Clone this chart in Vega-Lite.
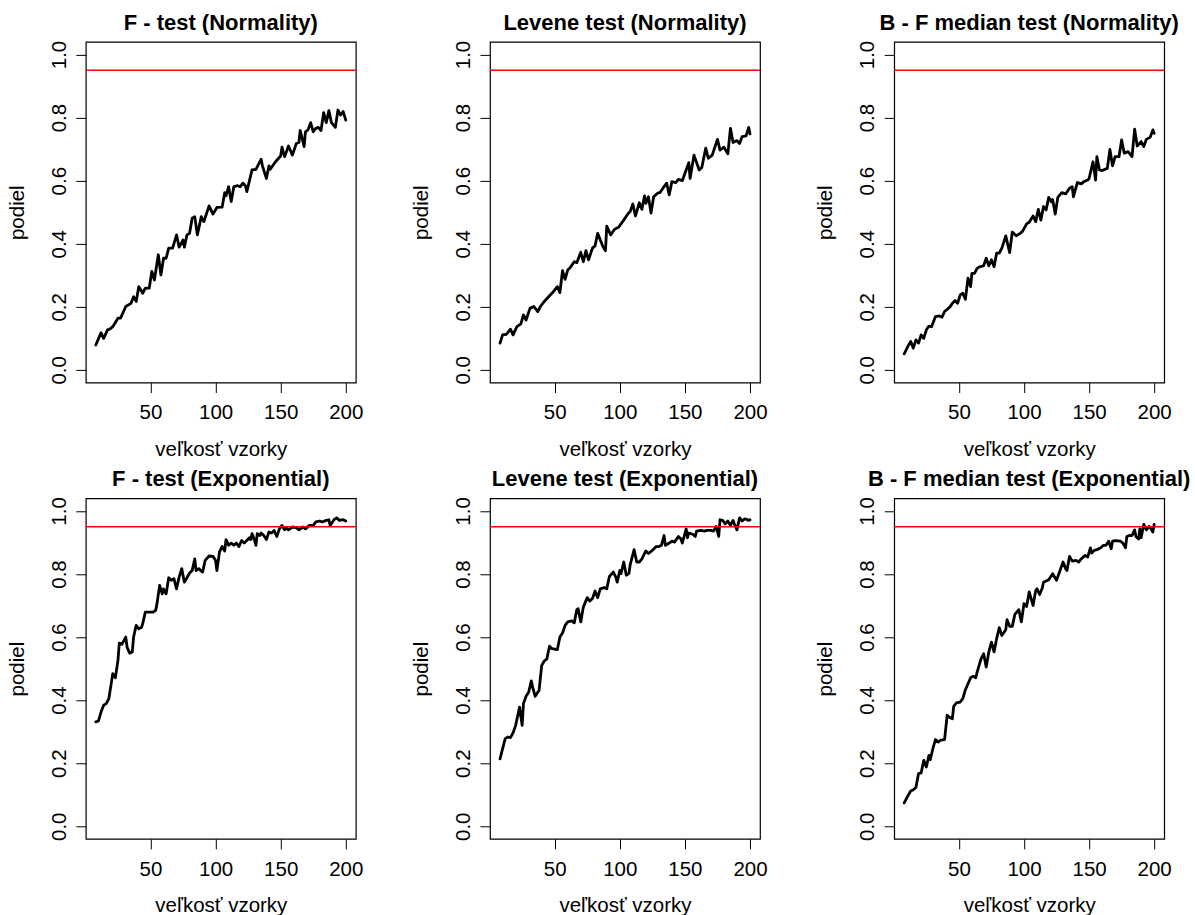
{
  "$schema": "https://vega.github.io/schema/vega-lite/v6.json",
  "padding": {"left": 5.8, "top": 10.9, "right": 0, "bottom": 0},
  "background": "#ffffff",
  "columns": 3,
  "spacing": {"row": 115.4, "column": 134.2},
  "bounds": "flush",
  "datasets": {
    "ref": [{"v": 0.95}],
    "curves": [
      {"p":1,"n":8,"v":0.079},{"p":1,"n":12,"v":0.118},{"p":1,"n":14,"v":0.100},{"p":1,"n":17,"v":0.127},{"p":1,"n":19,"v":0.130},{"p":1,"n":21,"v":0.137},{"p":1,"n":25,"v":0.164},{"p":1,"n":27,"v":0.164},{"p":1,"n":31,"v":0.201},{"p":1,"n":35,"v":0.211},{"p":1,"n":37,"v":0.232},{"p":1,"n":39,"v":0.217},{"p":1,"n":41,"v":0.264},{"p":1,"n":44,"v":0.243},{"p":1,"n":46,"v":0.259},{"p":1,"n":49,"v":0.259},{"p":1,"n":51,"v":0.312},{"p":1,"n":53,"v":0.285},{"p":1,"n":56,"v":0.365},{"p":1,"n":58,"v":0.301},{"p":1,"n":60,"v":0.354},{"p":1,"n":62,"v":0.354},{"p":1,"n":64,"v":0.386},{"p":1,"n":67,"v":0.386},{"p":1,"n":70,"v":0.428},{"p":1,"n":72,"v":0.389},{"p":1,"n":75,"v":0.412},{"p":1,"n":76,"v":0.389},{"p":1,"n":78,"v":0.428},{"p":1,"n":80,"v":0.433},{"p":1,"n":82,"v":0.481},{"p":1,"n":84,"v":0.486},{"p":1,"n":86,"v":0.428},{"p":1,"n":89,"v":0.486},{"p":1,"n":91,"v":0.470},{"p":1,"n":95,"v":0.520},{"p":1,"n":98,"v":0.494},{"p":1,"n":101,"v":0.515},{"p":1,"n":105,"v":0.516},{"p":1,"n":107,"v":0.562},{"p":1,"n":108,"v":0.552},{"p":1,"n":110,"v":0.581},{"p":1,"n":112,"v":0.534},{"p":1,"n":114,"v":0.581},{"p":1,"n":117,"v":0.584},{"p":1,"n":119,"v":0.581},{"p":1,"n":121,"v":0.592},{"p":1,"n":123,"v":0.583},{"p":1,"n":124,"v":0.565},{"p":1,"n":128,"v":0.634},{"p":1,"n":131,"v":0.636},{"p":1,"n":135,"v":0.668},{"p":1,"n":136,"v":0.647},{"p":1,"n":139,"v":0.607},{"p":1,"n":141,"v":0.647},{"p":1,"n":142,"v":0.636},{"p":1,"n":146,"v":0.660},{"p":1,"n":150,"v":0.678},{"p":1,"n":151,"v":0.706},{"p":1,"n":153,"v":0.676},{"p":1,"n":156,"v":0.710},{"p":1,"n":159,"v":0.681},{"p":1,"n":162,"v":0.718},{"p":1,"n":164,"v":0.721},{"p":1,"n":165,"v":0.759},{"p":1,"n":168,"v":0.708},{"p":1,"n":169,"v":0.755},{"p":1,"n":171,"v":0.761},{"p":1,"n":173,"v":0.784},{"p":1,"n":175,"v":0.755},{"p":1,"n":177,"v":0.766},{"p":1,"n":179,"v":0.769},{"p":1,"n":181,"v":0.759},{"p":1,"n":183,"v":0.816},{"p":1,"n":185,"v":0.784},{"p":1,"n":187,"v":0.822},{"p":1,"n":189,"v":0.784},{"p":1,"n":192,"v":0.769},{"p":1,"n":194,"v":0.824},{"p":1,"n":196,"v":0.808},{"p":1,"n":198,"v":0.819},{"p":1,"n":200,"v":0.792},
      {"p":2,"n":8,"v":0.085},{"p":2,"n":10,"v":0.111},{"p":2,"n":13,"v":0.113},{"p":2,"n":16,"v":0.129},{"p":2,"n":18,"v":0.111},{"p":2,"n":21,"v":0.137},{"p":2,"n":24,"v":0.146},{"p":2,"n":26,"v":0.174},{"p":2,"n":28,"v":0.158},{"p":2,"n":31,"v":0.195},{"p":2,"n":34,"v":0.201},{"p":2,"n":37,"v":0.185},{"p":2,"n":39,"v":0.201},{"p":2,"n":42,"v":0.217},{"p":2,"n":46,"v":0.235},{"p":2,"n":49,"v":0.248},{"p":2,"n":52,"v":0.264},{"p":2,"n":54,"v":0.245},{"p":2,"n":56,"v":0.315},{"p":2,"n":58,"v":0.287},{"p":2,"n":60,"v":0.317},{"p":2,"n":62,"v":0.325},{"p":2,"n":65,"v":0.343},{"p":2,"n":67,"v":0.340},{"p":2,"n":70,"v":0.373},{"p":2,"n":72,"v":0.343},{"p":2,"n":74,"v":0.378},{"p":2,"n":76,"v":0.349},{"p":2,"n":79,"v":0.386},{"p":2,"n":81,"v":0.393},{"p":2,"n":83,"v":0.433},{"p":2,"n":87,"v":0.391},{"p":2,"n":89,"v":0.378},{"p":2,"n":90,"v":0.456},{"p":2,"n":93,"v":0.428},{"p":2,"n":96,"v":0.446},{"p":2,"n":99,"v":0.452},{"p":2,"n":103,"v":0.475},{"p":2,"n":107,"v":0.499},{"p":2,"n":108,"v":0.502},{"p":2,"n":110,"v":0.526},{"p":2,"n":112,"v":0.488},{"p":2,"n":115,"v":0.530},{"p":2,"n":117,"v":0.509},{"p":2,"n":119,"v":0.552},{"p":2,"n":120,"v":0.528},{"p":2,"n":122,"v":0.549},{"p":2,"n":124,"v":0.497},{"p":2,"n":126,"v":0.549},{"p":2,"n":129,"v":0.560},{"p":2,"n":131,"v":0.563},{"p":2,"n":134,"v":0.581},{"p":2,"n":136,"v":0.592},{"p":2,"n":138,"v":0.555},{"p":2,"n":140,"v":0.597},{"p":2,"n":143,"v":0.594},{"p":2,"n":145,"v":0.604},{"p":2,"n":148,"v":0.600},{"p":2,"n":153,"v":0.657},{"p":2,"n":154,"v":0.607},{"p":2,"n":157,"v":0.681},{"p":2,"n":161,"v":0.634},{"p":2,"n":163,"v":0.642},{"p":2,"n":166,"v":0.703},{"p":2,"n":168,"v":0.671},{"p":2,"n":171,"v":0.681},{"p":2,"n":175,"v":0.731},{"p":2,"n":177,"v":0.697},{"p":2,"n":180,"v":0.706},{"p":2,"n":183,"v":0.685},{"p":2,"n":185,"v":0.766},{"p":2,"n":187,"v":0.721},{"p":2,"n":190,"v":0.727},{"p":2,"n":192,"v":0.718},{"p":2,"n":194,"v":0.740},{"p":2,"n":197,"v":0.742},{"p":2,"n":199,"v":0.769},{"p":2,"n":200,"v":0.748},
      {"p":3,"n":8,"v":0.051},{"p":3,"n":11,"v":0.076},{"p":3,"n":13,"v":0.090},{"p":3,"n":15,"v":0.069},{"p":3,"n":17,"v":0.095},{"p":3,"n":19,"v":0.085},{"p":3,"n":21,"v":0.111},{"p":3,"n":23,"v":0.100},{"p":3,"n":25,"v":0.127},{"p":3,"n":27,"v":0.139},{"p":3,"n":29,"v":0.137},{"p":3,"n":32,"v":0.169},{"p":3,"n":35,"v":0.171},{"p":3,"n":37,"v":0.167},{"p":3,"n":39,"v":0.185},{"p":3,"n":43,"v":0.199},{"p":3,"n":45,"v":0.211},{"p":3,"n":47,"v":0.220},{"p":3,"n":49,"v":0.211},{"p":3,"n":51,"v":0.238},{"p":3,"n":53,"v":0.243},{"p":3,"n":55,"v":0.224},{"p":3,"n":57,"v":0.291},{"p":3,"n":59,"v":0.264},{"p":3,"n":60,"v":0.306},{"p":3,"n":62,"v":0.306},{"p":3,"n":64,"v":0.322},{"p":3,"n":66,"v":0.327},{"p":3,"n":69,"v":0.330},{"p":3,"n":71,"v":0.354},{"p":3,"n":73,"v":0.330},{"p":3,"n":75,"v":0.349},{"p":3,"n":77,"v":0.327},{"p":3,"n":79,"v":0.370},{"p":3,"n":81,"v":0.370},{"p":3,"n":83,"v":0.386},{"p":3,"n":86,"v":0.425},{"p":3,"n":89,"v":0.372},{"p":3,"n":91,"v":0.437},{"p":3,"n":94,"v":0.425},{"p":3,"n":97,"v":0.433},{"p":3,"n":99,"v":0.440},{"p":3,"n":102,"v":0.463},{"p":3,"n":104,"v":0.468},{"p":3,"n":107,"v":0.488},{"p":3,"n":109,"v":0.470},{"p":3,"n":111,"v":0.509},{"p":3,"n":113,"v":0.475},{"p":3,"n":115,"v":0.518},{"p":3,"n":117,"v":0.507},{"p":3,"n":119,"v":0.547},{"p":3,"n":121,"v":0.533},{"p":3,"n":122,"v":0.540},{"p":3,"n":124,"v":0.494},{"p":3,"n":126,"v":0.547},{"p":3,"n":129,"v":0.562},{"p":3,"n":132,"v":0.558},{"p":3,"n":135,"v":0.576},{"p":3,"n":137,"v":0.581},{"p":3,"n":138,"v":0.549},{"p":3,"n":141,"v":0.594},{"p":3,"n":144,"v":0.590},{"p":3,"n":146,"v":0.597},{"p":3,"n":149,"v":0.602},{"p":3,"n":150,"v":0.607},{"p":3,"n":153,"v":0.660},{"p":3,"n":155,"v":0.602},{"p":3,"n":156,"v":0.676},{"p":3,"n":158,"v":0.634},{"p":3,"n":160,"v":0.632},{"p":3,"n":164,"v":0.639},{"p":3,"n":166,"v":0.699},{"p":3,"n":168,"v":0.647},{"p":3,"n":170,"v":0.676},{"p":3,"n":173,"v":0.676},{"p":3,"n":175,"v":0.729},{"p":3,"n":177,"v":0.687},{"p":3,"n":180,"v":0.692},{"p":3,"n":183,"v":0.676},{"p":3,"n":185,"v":0.763},{"p":3,"n":187,"v":0.710},{"p":3,"n":190,"v":0.724},{"p":3,"n":192,"v":0.708},{"p":3,"n":194,"v":0.731},{"p":3,"n":197,"v":0.738},{"p":3,"n":199,"v":0.761},{"p":3,"n":200,"v":0.750},
      {"p":4,"n":8,"v":0.331},{"p":4,"n":10,"v":0.334},{"p":4,"n":12,"v":0.362},{"p":4,"n":14,"v":0.384},{"p":4,"n":16,"v":0.389},{"p":4,"n":18,"v":0.405},{"p":4,"n":20,"v":0.457},{"p":4,"n":21,"v":0.484},{"p":4,"n":23,"v":0.471},{"p":4,"n":25,"v":0.526},{"p":4,"n":26,"v":0.581},{"p":4,"n":28,"v":0.577},{"p":4,"n":31,"v":0.600},{"p":4,"n":32,"v":0.568},{"p":4,"n":34,"v":0.549},{"p":4,"n":36,"v":0.553},{"p":4,"n":37,"v":0.600},{"p":4,"n":39,"v":0.637},{"p":4,"n":41,"v":0.626},{"p":4,"n":43,"v":0.630},{"p":4,"n":44,"v":0.642},{"p":4,"n":46,"v":0.679},{"p":4,"n":48,"v":0.679},{"p":4,"n":52,"v":0.679},{"p":4,"n":54,"v":0.685},{"p":4,"n":55,"v":0.706},{"p":4,"n":57,"v":0.764},{"p":4,"n":59,"v":0.737},{"p":4,"n":60,"v":0.753},{"p":4,"n":62,"v":0.737},{"p":4,"n":64,"v":0.788},{"p":4,"n":66,"v":0.780},{"p":4,"n":68,"v":0.785},{"p":4,"n":70,"v":0.753},{"p":4,"n":72,"v":0.790},{"p":4,"n":74,"v":0.817},{"p":4,"n":76,"v":0.774},{"p":4,"n":78,"v":0.788},{"p":4,"n":80,"v":0.803},{"p":4,"n":82,"v":0.811},{"p":4,"n":84,"v":0.848},{"p":4,"n":85,"v":0.811},{"p":4,"n":87,"v":0.817},{"p":4,"n":90,"v":0.806},{"p":4,"n":92,"v":0.843},{"p":4,"n":95,"v":0.857},{"p":4,"n":98,"v":0.856},{"p":4,"n":100,"v":0.843},{"p":4,"n":101,"v":0.811},{"p":4,"n":103,"v":0.870},{"p":4,"n":105,"v":0.887},{"p":4,"n":107,"v":0.873},{"p":4,"n":108,"v":0.909},{"p":4,"n":110,"v":0.891},{"p":4,"n":112,"v":0.898},{"p":4,"n":114,"v":0.891},{"p":4,"n":116,"v":0.898},{"p":4,"n":118,"v":0.887},{"p":4,"n":120,"v":0.906},{"p":4,"n":122,"v":0.898},{"p":4,"n":124,"v":0.906},{"p":4,"n":126,"v":0.915},{"p":4,"n":127,"v":0.909},{"p":4,"n":128,"v":0.928},{"p":4,"n":130,"v":0.906},{"p":4,"n":131,"v":0.891},{"p":4,"n":132,"v":0.928},{"p":4,"n":134,"v":0.922},{"p":4,"n":135,"v":0.930},{"p":4,"n":137,"v":0.922},{"p":4,"n":139,"v":0.909},{"p":4,"n":141,"v":0.933},{"p":4,"n":143,"v":0.930},{"p":4,"n":145,"v":0.938},{"p":4,"n":147,"v":0.919},{"p":4,"n":149,"v":0.943},{"p":4,"n":151,"v":0.954},{"p":4,"n":153,"v":0.940},{"p":4,"n":154,"v":0.947},{"p":4,"n":156,"v":0.940},{"p":4,"n":159,"v":0.949},{"p":4,"n":162,"v":0.947},{"p":4,"n":164,"v":0.940},{"p":4,"n":167,"v":0.949},{"p":4,"n":169,"v":0.943},{"p":4,"n":172,"v":0.954},{"p":4,"n":175,"v":0.954},{"p":4,"n":177,"v":0.965},{"p":4,"n":180,"v":0.968},{"p":4,"n":182,"v":0.965},{"p":4,"n":185,"v":0.970},{"p":4,"n":187,"v":0.972},{"p":4,"n":188,"v":0.954},{"p":4,"n":191,"v":0.972},{"p":4,"n":193,"v":0.978},{"p":4,"n":195,"v":0.970},{"p":4,"n":198,"v":0.972},{"p":4,"n":200,"v":0.968},
      {"p":5,"n":8,"v":0.214},{"p":5,"n":10,"v":0.246},{"p":5,"n":12,"v":0.278},{"p":5,"n":14,"v":0.283},{"p":5,"n":16,"v":0.281},{"p":5,"n":18,"v":0.296},{"p":5,"n":20,"v":0.320},{"p":5,"n":23,"v":0.378},{"p":5,"n":25,"v":0.320},{"p":5,"n":26,"v":0.389},{"p":5,"n":28,"v":0.412},{"p":5,"n":30,"v":0.425},{"p":5,"n":32,"v":0.461},{"p":5,"n":33,"v":0.442},{"p":5,"n":35,"v":0.412},{"p":5,"n":37,"v":0.425},{"p":5,"n":38,"v":0.431},{"p":5,"n":40,"v":0.510},{"p":5,"n":42,"v":0.524},{"p":5,"n":44,"v":0.531},{"p":5,"n":46,"v":0.571},{"p":5,"n":48,"v":0.563},{"p":5,"n":52,"v":0.560},{"p":5,"n":54,"v":0.600},{"p":5,"n":56,"v":0.613},{"p":5,"n":58,"v":0.637},{"p":5,"n":60,"v":0.648},{"p":5,"n":63,"v":0.651},{"p":5,"n":65,"v":0.645},{"p":5,"n":67,"v":0.687},{"p":5,"n":68,"v":0.690},{"p":5,"n":70,"v":0.648},{"p":5,"n":72,"v":0.695},{"p":5,"n":75,"v":0.725},{"p":5,"n":77,"v":0.714},{"p":5,"n":79,"v":0.722},{"p":5,"n":81,"v":0.746},{"p":5,"n":83,"v":0.725},{"p":5,"n":85,"v":0.753},{"p":5,"n":88,"v":0.757},{"p":5,"n":90,"v":0.753},{"p":5,"n":92,"v":0.792},{"p":5,"n":95,"v":0.806},{"p":5,"n":97,"v":0.790},{"p":5,"n":98,"v":0.774},{"p":5,"n":100,"v":0.811},{"p":5,"n":101,"v":0.801},{"p":5,"n":103,"v":0.838},{"p":5,"n":105,"v":0.796},{"p":5,"n":107,"v":0.801},{"p":5,"n":108,"v":0.830},{"p":5,"n":111,"v":0.877},{"p":5,"n":113,"v":0.838},{"p":5,"n":115,"v":0.838},{"p":5,"n":117,"v":0.848},{"p":5,"n":120,"v":0.873},{"p":5,"n":122,"v":0.865},{"p":5,"n":125,"v":0.875},{"p":5,"n":128,"v":0.887},{"p":5,"n":130,"v":0.887},{"p":5,"n":132,"v":0.891},{"p":5,"n":134,"v":0.922},{"p":5,"n":135,"v":0.891},{"p":5,"n":138,"v":0.898},{"p":5,"n":140,"v":0.904},{"p":5,"n":142,"v":0.901},{"p":5,"n":145,"v":0.919},{"p":5,"n":147,"v":0.911},{"p":5,"n":148,"v":0.898},{"p":5,"n":151,"v":0.943},{"p":5,"n":152,"v":0.915},{"p":5,"n":153,"v":0.930},{"p":5,"n":156,"v":0.926},{"p":5,"n":158,"v":0.919},{"p":5,"n":159,"v":0.936},{"p":5,"n":162,"v":0.938},{"p":5,"n":165,"v":0.936},{"p":5,"n":167,"v":0.938},{"p":5,"n":170,"v":0.938},{"p":5,"n":172,"v":0.936},{"p":5,"n":174,"v":0.951},{"p":5,"n":176,"v":0.919},{"p":5,"n":177,"v":0.972},{"p":5,"n":179,"v":0.970},{"p":5,"n":181,"v":0.959},{"p":5,"n":183,"v":0.968},{"p":5,"n":185,"v":0.954},{"p":5,"n":187,"v":0.970},{"p":5,"n":188,"v":0.959},{"p":5,"n":190,"v":0.940},{"p":5,"n":192,"v":0.978},{"p":5,"n":194,"v":0.968},{"p":5,"n":196,"v":0.975},{"p":5,"n":199,"v":0.970},{"p":5,"n":200,"v":0.972},
      {"p":6,"n":8,"v":0.074},{"p":6,"n":11,"v":0.098},{"p":6,"n":13,"v":0.112},{"p":6,"n":15,"v":0.116},{"p":6,"n":17,"v":0.123},{"p":6,"n":19,"v":0.167},{"p":6,"n":21,"v":0.169},{"p":6,"n":23,"v":0.209},{"p":6,"n":25,"v":0.188},{"p":6,"n":27,"v":0.225},{"p":6,"n":28,"v":0.211},{"p":6,"n":30,"v":0.246},{"p":6,"n":32,"v":0.275},{"p":6,"n":34,"v":0.267},{"p":6,"n":36,"v":0.273},{"p":6,"n":39,"v":0.275},{"p":6,"n":41,"v":0.352},{"p":6,"n":43,"v":0.345},{"p":6,"n":45,"v":0.341},{"p":6,"n":46,"v":0.380},{"p":6,"n":48,"v":0.391},{"p":6,"n":51,"v":0.394},{"p":6,"n":53,"v":0.405},{"p":6,"n":55,"v":0.433},{"p":6,"n":57,"v":0.452},{"p":6,"n":59,"v":0.471},{"p":6,"n":61,"v":0.476},{"p":6,"n":63,"v":0.471},{"p":6,"n":64,"v":0.489},{"p":6,"n":67,"v":0.531},{"p":6,"n":69,"v":0.547},{"p":6,"n":71,"v":0.505},{"p":6,"n":73,"v":0.553},{"p":6,"n":75,"v":0.584},{"p":6,"n":77,"v":0.553},{"p":6,"n":79,"v":0.595},{"p":6,"n":81,"v":0.630},{"p":6,"n":83,"v":0.605},{"p":6,"n":86,"v":0.623},{"p":6,"n":87,"v":0.655},{"p":6,"n":89,"v":0.634},{"p":6,"n":91,"v":0.634},{"p":6,"n":93,"v":0.672},{"p":6,"n":96,"v":0.687},{"p":6,"n":98,"v":0.648},{"p":6,"n":100,"v":0.706},{"p":6,"n":102,"v":0.697},{"p":6,"n":104,"v":0.743},{"p":6,"n":107,"v":0.700},{"p":6,"n":109,"v":0.748},{"p":6,"n":110,"v":0.753},{"p":6,"n":112,"v":0.735},{"p":6,"n":114,"v":0.755},{"p":6,"n":115,"v":0.774},{"p":6,"n":119,"v":0.782},{"p":6,"n":122,"v":0.801},{"p":6,"n":125,"v":0.780},{"p":6,"n":127,"v":0.803},{"p":6,"n":130,"v":0.838},{"p":6,"n":132,"v":0.817},{"p":6,"n":133,"v":0.811},{"p":6,"n":135,"v":0.856},{"p":6,"n":137,"v":0.841},{"p":6,"n":140,"v":0.843},{"p":6,"n":142,"v":0.838},{"p":6,"n":144,"v":0.848},{"p":6,"n":147,"v":0.859},{"p":6,"n":149,"v":0.854},{"p":6,"n":151,"v":0.883},{"p":6,"n":152,"v":0.866},{"p":6,"n":154,"v":0.875},{"p":6,"n":156,"v":0.877},{"p":6,"n":159,"v":0.883},{"p":6,"n":161,"v":0.891},{"p":6,"n":163,"v":0.891},{"p":6,"n":165,"v":0.904},{"p":6,"n":167,"v":0.880},{"p":6,"n":168,"v":0.904},{"p":6,"n":170,"v":0.906},{"p":6,"n":174,"v":0.904},{"p":6,"n":176,"v":0.898},{"p":6,"n":178,"v":0.883},{"p":6,"n":179,"v":0.919},{"p":6,"n":181,"v":0.922},{"p":6,"n":183,"v":0.922},{"p":6,"n":185,"v":0.940},{"p":6,"n":186,"v":0.919},{"p":6,"n":188,"v":0.911},{"p":6,"n":189,"v":0.943},{"p":6,"n":190,"v":0.915},{"p":6,"n":192,"v":0.957},{"p":6,"n":194,"v":0.940},{"p":6,"n":196,"v":0.951},{"p":6,"n":197,"v":0.947},{"p":6,"n":199,"v":0.933},{"p":6,"n":200,"v":0.957}
    ]
  },
  "concat": [
    {"title": "F - test (Normality)", "width": 270, "height": 340.6, "data": {"name": "curves"}, "transform": [{"filter": "datum.p == 1"}],
     "layer": [
      {"mark": {"type": "line", "color": "#000000", "strokeWidth": 2.8, "strokeJoin": "round", "strokeCap": "round"},
       "encoding": {"x": {"field": "n", "type": "quantitative", "scale": {"domain": [0.3, 207.7], "nice": false, "zero": false}, "axis": {"values": [50, 100, 150, 200], "title": "veľkosť vzorky"}},
                    "y": {"field": "v", "type": "quantitative", "scale": {"domain": [-0.04, 1.04], "nice": false, "zero": false}, "axis": {"values": [0, 0.2, 0.4, 0.6, 0.8, 1], "format": ".1f", "title": "podiel"}}}},
      {"data": {"name": "ref"}, "mark": {"type": "rule", "color": "#ff0000", "strokeWidth": 1.6}, "encoding": {"y": {"field": "v", "type": "quantitative"}}}
     ]},
    {"title": "Levene test (Normality)", "width": 270, "height": 340.6, "data": {"name": "curves"}, "transform": [{"filter": "datum.p == 2"}],
     "layer": [
      {"mark": {"type": "line", "color": "#000000", "strokeWidth": 2.8, "strokeJoin": "round", "strokeCap": "round"},
       "encoding": {"x": {"field": "n", "type": "quantitative", "scale": {"domain": [0.3, 207.7], "nice": false, "zero": false}, "axis": {"values": [50, 100, 150, 200], "title": "veľkosť vzorky"}},
                    "y": {"field": "v", "type": "quantitative", "scale": {"domain": [-0.04, 1.04], "nice": false, "zero": false}, "axis": {"values": [0, 0.2, 0.4, 0.6, 0.8, 1], "format": ".1f", "title": "podiel"}}}},
      {"data": {"name": "ref"}, "mark": {"type": "rule", "color": "#ff0000", "strokeWidth": 1.6}, "encoding": {"y": {"field": "v", "type": "quantitative"}}}
     ]},
    {"title": "B - F median test (Normality)", "width": 270, "height": 340.6, "data": {"name": "curves"}, "transform": [{"filter": "datum.p == 3"}],
     "layer": [
      {"mark": {"type": "line", "color": "#000000", "strokeWidth": 2.8, "strokeJoin": "round", "strokeCap": "round"},
       "encoding": {"x": {"field": "n", "type": "quantitative", "scale": {"domain": [0.3, 207.7], "nice": false, "zero": false}, "axis": {"values": [50, 100, 150, 200], "title": "veľkosť vzorky"}},
                    "y": {"field": "v", "type": "quantitative", "scale": {"domain": [-0.04, 1.04], "nice": false, "zero": false}, "axis": {"values": [0, 0.2, 0.4, 0.6, 0.8, 1], "format": ".1f", "title": "podiel"}}}},
      {"data": {"name": "ref"}, "mark": {"type": "rule", "color": "#ff0000", "strokeWidth": 1.6}, "encoding": {"y": {"field": "v", "type": "quantitative"}}}
     ]},
    {"title": "F - test (Exponential)", "width": 270, "height": 340.6, "data": {"name": "curves"}, "transform": [{"filter": "datum.p == 4"}],
     "layer": [
      {"mark": {"type": "line", "color": "#000000", "strokeWidth": 2.8, "strokeJoin": "round", "strokeCap": "round"},
       "encoding": {"x": {"field": "n", "type": "quantitative", "scale": {"domain": [0.3, 207.7], "nice": false, "zero": false}, "axis": {"values": [50, 100, 150, 200], "title": "veľkosť vzorky"}},
                    "y": {"field": "v", "type": "quantitative", "scale": {"domain": [-0.04, 1.04], "nice": false, "zero": false}, "axis": {"values": [0, 0.2, 0.4, 0.6, 0.8, 1], "format": ".1f", "title": "podiel"}}}},
      {"data": {"name": "ref"}, "mark": {"type": "rule", "color": "#ff0000", "strokeWidth": 1.6}, "encoding": {"y": {"field": "v", "type": "quantitative"}}}
     ]},
    {"title": "Levene test (Exponential)", "width": 270, "height": 340.6, "data": {"name": "curves"}, "transform": [{"filter": "datum.p == 5"}],
     "layer": [
      {"mark": {"type": "line", "color": "#000000", "strokeWidth": 2.8, "strokeJoin": "round", "strokeCap": "round"},
       "encoding": {"x": {"field": "n", "type": "quantitative", "scale": {"domain": [0.3, 207.7], "nice": false, "zero": false}, "axis": {"values": [50, 100, 150, 200], "title": "veľkosť vzorky"}},
                    "y": {"field": "v", "type": "quantitative", "scale": {"domain": [-0.04, 1.04], "nice": false, "zero": false}, "axis": {"values": [0, 0.2, 0.4, 0.6, 0.8, 1], "format": ".1f", "title": "podiel"}}}},
      {"data": {"name": "ref"}, "mark": {"type": "rule", "color": "#ff0000", "strokeWidth": 1.6}, "encoding": {"y": {"field": "v", "type": "quantitative"}}}
     ]},
    {"title": "B - F median test (Exponential)", "width": 270, "height": 340.6, "data": {"name": "curves"}, "transform": [{"filter": "datum.p == 6"}],
     "layer": [
      {"mark": {"type": "line", "color": "#000000", "strokeWidth": 2.8, "strokeJoin": "round", "strokeCap": "round"},
       "encoding": {"x": {"field": "n", "type": "quantitative", "scale": {"domain": [0.3, 207.7], "nice": false, "zero": false}, "axis": {"values": [50, 100, 150, 200], "title": "veľkosť vzorky"}},
                    "y": {"field": "v", "type": "quantitative", "scale": {"domain": [-0.04, 1.04], "nice": false, "zero": false}, "axis": {"values": [0, 0.2, 0.4, 0.6, 0.8, 1], "format": ".1f", "title": "podiel"}}}},
      {"data": {"name": "ref"}, "mark": {"type": "rule", "color": "#ff0000", "strokeWidth": 1.6}, "encoding": {"y": {"field": "v", "type": "quantitative"}}}
     ]}
  ],
  "config": {
    "font": "Liberation Sans",
    "view": {"stroke": "#000000", "strokeWidth": 1.2},
    "axis": {"domain": false, "grid": false, "ticks": true, "tickColor": "#000000", "tickSize": 10, "tickWidth": 1,
             "labelFont": "Liberation Sans", "labelFontSize": 20.5, "labelColor": "#000000", "labelOverlap": false, "labelFlush": false,
             "titleFont": "Liberation Sans", "titleFontSize": 20.5, "titleFontWeight": "normal", "titleColor": "#000000"},
    "axisX": {"labelBaseline": "alphabetic", "labelPadding": 26.5, "titleY": 72.7, "titleBaseline": "alphabetic"},
    "axisY": {"labelAngle": 270, "labelAlign": "center", "labelBaseline": "alphabetic", "labelPadding": 10.7, "titleX": -62.7, "titleAngle": 270, "titleBaseline": "alphabetic"},
    "title": {"font": "Liberation Sans", "fontSize": 22, "fontWeight": "bold", "color": "#000000", "frame": "group", "anchor": "middle", "baseline": "alphabetic", "offset": 5.3}
  }
}
